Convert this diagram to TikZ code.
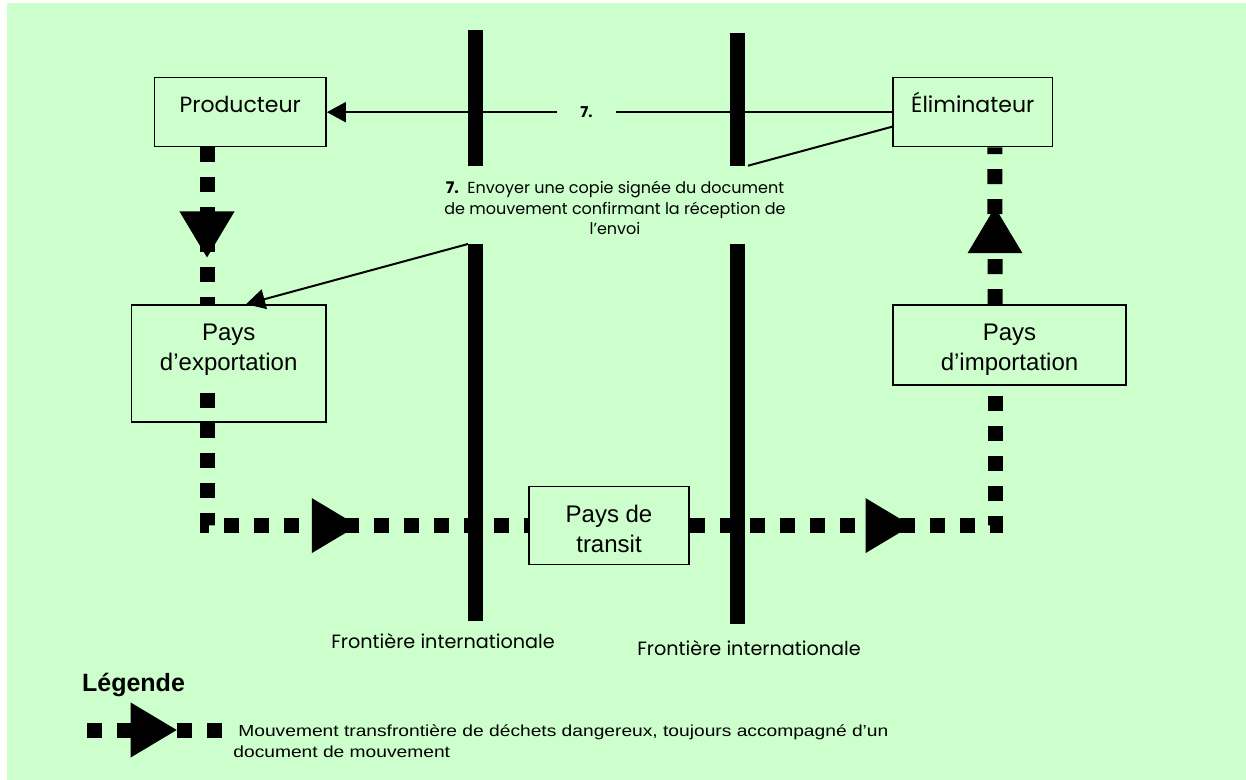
\documentclass[tikz,border=0pt]{standalone}
\usepackage{fontspec}
\usetikzlibrary{arrows.meta,positioning,calc,decorations.markings}
\setmainfont{Liberation Sans}
\newfontfamily\gothic{Poppins}
\newfontfamily\stretched{Liberation Sans}[FakeStretch=1.2]
\definecolor{paper}{HTML}{CCFFCC}
\tikzset{
  % the parties of the movement
  party/.style={draw, line width=0.8pt, inner sep=0pt, font=\gothic\fontsize{11}{13}\selectfont,
    text height=9pt, text depth=9pt, minimum height=34.5pt},
  land/.style={draw, line width=0.8pt, inner sep=0pt},
  landtxt/.style={inner sep=0pt, align=center, font=\fontsize{12}{15}\selectfont},
  % the waste itself
  waste/.style={line width=7.5pt, dash pattern=on 7.5pt off 7.5pt},
  bigtip/.style={postaction={decorate, decoration={markings,
    mark=at position #1 with {\arrow{Triangle[length=23pt, width=27.5pt, line width=0pt]}}}}},
  % the signed document going back
  doc/.style={line width=1pt},
  docarrow/.style={doc, -{Triangle[length=9.5pt, width=10pt]}},
  stepnum/.style={fill=paper, inner sep=0pt, minimum width=29.5pt, minimum height=6pt,
    font=\gothic\bfseries\fontsize{7.5}{9}\selectfont},
  frontier/.style={line width=7.5pt},
  note/.style={inner sep=0pt, align=center, font=\gothic\fontsize{8}{10.3}\selectfont},
  frontlabel/.style={inner sep=0pt, font=\gothic\fontsize{9.6}{11}\selectfont},
}
\begin{document}
\begin{tikzpicture}[x=0.5pt, y=-0.5pt]
  \useasboundingbox (0,0) rectangle (1246,780);
  \fill[paper] (7,3) rectangle (1246,780);

  % frontiers
  \draw[frontier] (475,30) -- (475,165.7);
  \draw[frontier] (475,244) -- (475,620.7);
  \draw[frontier] (737,33) -- (737,165.7);
  \draw[frontier] (737,244) -- (737,624);
  \node[frontlabel, anchor=base] (fr1) at (443,648) {Frontière internationale};
  \node[frontlabel, anchor=base] (fr2) at (749,655) {Frontière internationale};

  % parties
  \node[party, minimum width=85.85pt] (prod) at (240.2,112.2) {Producteur};
  \node[party, minimum width=79.75pt] (elim) at (972.75,112.2) {Éliminateur};
  \node[land, minimum width=97.3pt, minimum height=58.5pt] (exp) at (228.7,363.5) {};
  \node[landtxt] (exptxt) at (228.7,349.75) {Pays\\d’exportation};
  \node[land, minimum width=80pt, minimum height=39pt] (tra) at (609,525.6) {};
  \node[landtxt] (tratxt) at (609,528.9) {Pays de\\transit};
  \node[land, minimum width=116.5pt, minimum height=40pt] (imp) at (1009.5,345) {};
  \node[landtxt] (imptxt) at (1009.5,349.75) {Pays\\d’importation};

  % movement of the waste
  \draw[waste, bigtip=55pt] ([xshift=-16.6pt]prod.south) -- ([xshift=-10.85pt]exp.north);
  \draw[waste, bigtip=141.95pt] ([xshift=-10.85pt, yshift=15.15pt]exp.south) |- (tra.west);
  \draw[waste, bigtip=110.85pt] (tra.east) -| ([xshift=-7.25pt]imp.south);
  \draw[waste, bigtip=48.5pt] ([xshift=-7.25pt]imp.north) -- ([xshift=11.1pt]elim.south);

  % step 7
  \draw[docarrow] (elim.west) -- node[pos=0.5406, stepnum] (n7) {7.} (prod.east);
  \coordinate (capin) at (748,165.7);
  \coordinate (capout) at (468,244);
  \draw[doc] ([yshift=-7.25pt]elim.west) -- (capin);
  \draw[docarrow] (capout) -- ([xshift=8.65pt]exp.north);
  \node[note] (cap) at (615,208) {\textbf{7.}\ \ Envoyer une copie signée du document\\de mouvement confirmant la réception de\\l’envoi};

  % legend
  \node[anchor=base west, inner sep=0pt, font=\bfseries\fontsize{12.5}{15}\selectfont] (leg) at (81.7,691.7) {Légende};
  \coordinate (lega) at (87,730);
  \coordinate (legb) at (221.7,730);
  \draw[waste, bigtip=44.85pt] (lega) -- (legb);
  \node[anchor=north west, inner sep=0pt, align=left, font=\stretched\fontsize{8}{10.35}\selectfont] (legtxt)
    at (233,724.3) {\hspace*{2.5pt}Mouvement transfrontière de déchets dangereux, toujours accompagné d’un\\document de mouvement};
\end{tikzpicture}
\end{document}
